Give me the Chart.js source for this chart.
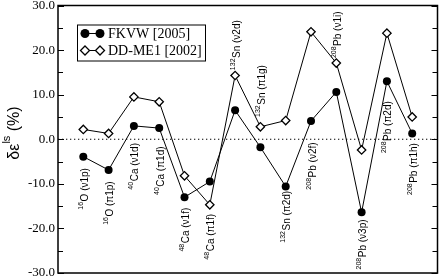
<!DOCTYPE html>
<html><head><meta charset="utf-8">
<script src="https://cdn.jsdelivr.net/npm/chart.js@4/dist/chart.umd.min.js"></script>
<style>html,body{margin:0;padding:0;background:#fff}canvas{display:block}</style>
</head><body>
<canvas id="c" width="443" height="279"></canvas>
<script>
// ---- data ----
const massNumbers = ['16','16','40','40','48','48','132','132','132','208','208','208','208','208'];
const elements = ['O','O','Ca','Ca','Ca','Ca','Sn','Sn','Sn','Pb','Pb','Pb','Pb','Pb'];
const states = ['(ν1p)','(π1p)','(ν1d)','(π1d)','(ν1f)','(π1f)','(ν2d)','(π1g)','(π2d)','(ν2f)','(ν1i)','(ν3p)','(π2d)','(π1h)'];
const fkvw = [-3.9,-6.9,3.0,2.5,-13.0,-9.5,6.5,-1.8,-10.6,4.1,10.6,-16.4,13.0,1.3];
const ddme1 = [2.2,1.3,9.5,8.4,-8.2,-14.7,14.3,2.8,4.2,24.1,17.1,-2.4,23.8,5.0];
// value (in %) where each rotated state label starts
const labelStart = [-15.8,-19.2,-11.3,-12.5,-25.2,-27.0,15.5,5.0,-23.2,-11.3,18.2,-29.2,-3.1,-12.5];
const seriesNames = ['FKVW [2005]','DD-ME1 [2002]'];
const yTickValues = [-30,-20,-10,0,10,20,30];

const toPts = arr => arr.map((v,i)=>({x:i+1,y:v}));
const SERIF = 'Liberation Serif';
const SANS = '"Liberation Sans", Arial, sans-serif';

const decor = {
  id:'decor',
  beforeDatasetsDraw(chart){
    const {ctx, chartArea:a, scales:{y}} = chart;
    const y0 = y.getPixelForValue(0);
    ctx.save();
    ctx.strokeStyle='#000'; ctx.lineWidth=1.2; ctx.setLineDash([1.3,2.7]);
    ctx.beginPath(); ctx.moveTo(a.left, y0); ctx.lineTo(a.right, y0); ctx.stroke();
    ctx.restore();
  },
  afterDraw(chart){
    const {ctx, chartArea:a, scales:{x,y}} = chart;
    ctx.save();
    // frame
    ctx.strokeStyle='#000'; ctx.lineWidth=1.5;
    ctx.strokeRect(a.left, a.top, a.right-a.left, a.bottom-a.top);
    // inner ticks every 5
    ctx.lineWidth=1;
    for(let v=-30; v<=30; v+=5){
      const py = Math.round(y.getPixelForValue(v))+0.5;
      const len = (v%10===0)?6:5;
      ctx.beginPath();
      ctx.moveTo(a.left, py); ctx.lineTo(a.left+len, py);
      ctx.moveTo(a.right, py); ctx.lineTo(a.right-len, py);
      ctx.stroke();
    }
    // rotated state labels
    ctx.fillStyle='#000';
    for(let i=0;i<states.length;i++){
      const px = x.getPixelForValue(i+1);
      const py = y.getPixelForValue(labelStart[i]);
      ctx.save();
      ctx.translate(px, py);
      ctx.rotate(-Math.PI/2);
      ctx.textAlign='left'; ctx.textBaseline='alphabetic';
      ctx.font='7px '+SANS;
      ctx.fillText(massNumbers[i], 0, -0.5);
      const w = ctx.measureText(massNumbers[i]).width;
      ctx.font='10px '+SANS;
      ctx.fillText(elements[i]+' '+states[i], w+0.5, 4.5);
      ctx.restore();
    }
    // axis title  δε^ls (%)
    ctx.save();
    ctx.translate(13, 133);
    ctx.rotate(-Math.PI/2);
    ctx.textBaseline='alphabetic'; ctx.textAlign='left';
    const big='16px '+SANS, small='11px '+SANS;
    ctx.font=big; const w1=ctx.measureText('δε').width;
    ctx.font=small; const w2=ctx.measureText('ls').width;
    ctx.font=big; const w3=ctx.measureText(' (%)').width;
    let sx = -(w1+w2+w3)/2;
    ctx.font=big; ctx.fillText('δε', sx, 6); sx+=w1;
    ctx.font=small; ctx.fillText('ls', sx, -3); sx+=w2;
    ctx.font=big; ctx.fillText(' (%)', sx, 6);
    ctx.restore();
    // legend
    const lx = a.left+19, ly = a.top+19, lw = 128, lh = 36;
    ctx.fillStyle='#fff'; ctx.fillRect(lx, ly, lw, lh);
    ctx.strokeStyle='#000'; ctx.lineWidth=1; ctx.setLineDash([]);
    ctx.strokeRect(lx+0.5, ly+0.5, lw, lh);
    const rows=[ly+9, ly+26];
    rows.forEach((ry,k)=>{
      const x1=lx+8, x2=lx+23;
      ctx.beginPath(); ctx.moveTo(x1,ry); ctx.lineTo(x2,ry); ctx.lineWidth=1; ctx.stroke();
      [x1,x2].forEach(cx=>{
        ctx.beginPath();
        if(k===0){ ctx.arc(cx,ry,4.5,0,Math.PI*2); ctx.fillStyle='#000'; ctx.fill(); }
        else { ctx.moveTo(cx,ry-4.5); ctx.lineTo(cx+4.5,ry); ctx.lineTo(cx,ry+4.5); ctx.lineTo(cx-4.5,ry); ctx.closePath(); ctx.fillStyle='#fff'; ctx.fill(); ctx.lineWidth=1.3; ctx.stroke(); }
      });
      ctx.fillStyle='#000';
      ctx.font='14px '+SERIF;
      ctx.textBaseline='middle'; ctx.textAlign='left';
      ctx.fillText(seriesNames[k], lx+31, ry+1);
    });
    ctx.restore();
  }
};

new Chart(document.getElementById('c'), {
  type:'line',
  data:{
    datasets:[
      {label:seriesNames[0], data:toPts(fkvw), borderColor:'#000', borderWidth:1, backgroundColor:'#000',
       pointStyle:'circle', pointRadius:4, pointBorderWidth:0, pointBackgroundColor:'#000', tension:0},
      {label:seriesNames[1], data:toPts(ddme1), borderColor:'#000', borderWidth:1, backgroundColor:'#fff',
       pointStyle:'rectRot', pointRadius:4.2, pointBorderWidth:1.3, pointBorderColor:'#000', pointBackgroundColor:'#fff', tension:0}
    ]
  },
  options:{
    responsive:false, animation:false, devicePixelRatio:1,
    layout:{padding:{top:5,right:4,bottom:6,left:0}},
    plugins:{legend:{display:false}, tooltip:{enabled:false}},
    scales:{
      x:{type:'linear', min:0, max:15, display:false},
      y:{type:'linear', min:-30, max:30,
         afterBuildTicks(s){ s.ticks = yTickValues.map(v=>({value:v})); },
         afterFit(s){ s.width=58; s.paddingTop=0; s.paddingBottom=0; },
         grid:{display:false, drawTicks:false}, border:{display:false},
         ticks:{padding:3, color:'#000', font:{family:SERIF, size:13},
                callback:v=>v.toFixed(1)}}
    }
  },
  plugins:[decor]
});
</script>
</body></html>
